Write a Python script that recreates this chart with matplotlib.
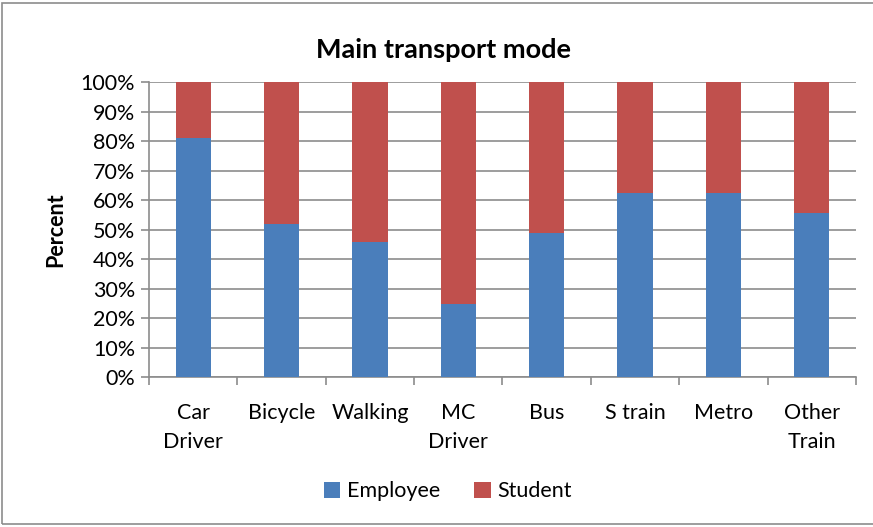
import matplotlib.pyplot as plt
from matplotlib.patches import Rectangle
import numpy as np

plt.rcParams['font.family'] = ['Lato', 'DejaVu Sans']

# data
categories = ['Car\nDriver', 'Bicycle', 'Walking', 'MC\nDriver', 'Bus', 'S train', 'Metro', 'Other\nTrain']
employee = [81.0, 52.0, 45.6, 24.6, 48.8, 62.4, 62.4, 55.6]
student = [100 - e for e in employee]

blue = '#4a7ebb'
red = '#c0504d'
grid_c = '#8c8c8c'

fig = plt.figure(figsize=(8.73, 5.27), dpi=100)
ax = fig.add_axes([0.1707, 0.2846, 0.8098, 0.5598])

x = np.arange(len(categories))
ax.bar(x, employee, width=0.4, color=blue, label='Employee', zorder=3)
ax.bar(x, student, width=0.4, bottom=employee, color=red, label='Student', zorder=3)

ax.set_xlim(-0.5, len(categories) - 0.5)
ax.set_ylim(0, 100)
ax.set_yticks(np.arange(0, 101, 10))
ax.set_yticklabels([f'{v}%' for v in range(0, 101, 10)], fontsize=15.5)
ax.yaxis.grid(True, color=grid_c, linewidth=1.2, zorder=0)

ax.set_xticks(x)
ax.set_xticklabels(categories, fontsize=15.5, linespacing=1.55)
ax.set_xticks(np.arange(-0.5, len(categories)), minor=True)
ax.tick_params(axis='x', which='major', length=0, pad=19)
ax.tick_params(axis='x', which='minor', length=6, color=grid_c, width=1.2)
ax.tick_params(axis='y', length=6, color=grid_c, width=1.2, pad=4)

for s in ['top', 'right']:
    ax.spines[s].set_visible(False)
for s in ['left', 'bottom']:
    ax.spines[s].set_color(grid_c)
    ax.spines[s].set_linewidth(1.2)

fig.text(0.508, 0.906, 'Main transport mode', fontsize=19.5, fontweight='bold',
         ha='center', va='center')
ax.set_ylabel('Percent', fontsize=15.5, fontweight='bold', labelpad=10)

fig.legend(loc='center', bbox_to_anchor=(0.513, 0.068), ncol=2, frameon=False,
           fontsize=15.5, handlelength=0.75, handleheight=0.75, handletextpad=0.3,
           columnspacing=1.6)

fig.patches.append(Rectangle((0.002, 0.005), 1.2, 0.99, transform=fig.transFigure,
                             fill=False, edgecolor='#8c8c8c', linewidth=1.2))

fig.savefig('out.png', dpi=100)
